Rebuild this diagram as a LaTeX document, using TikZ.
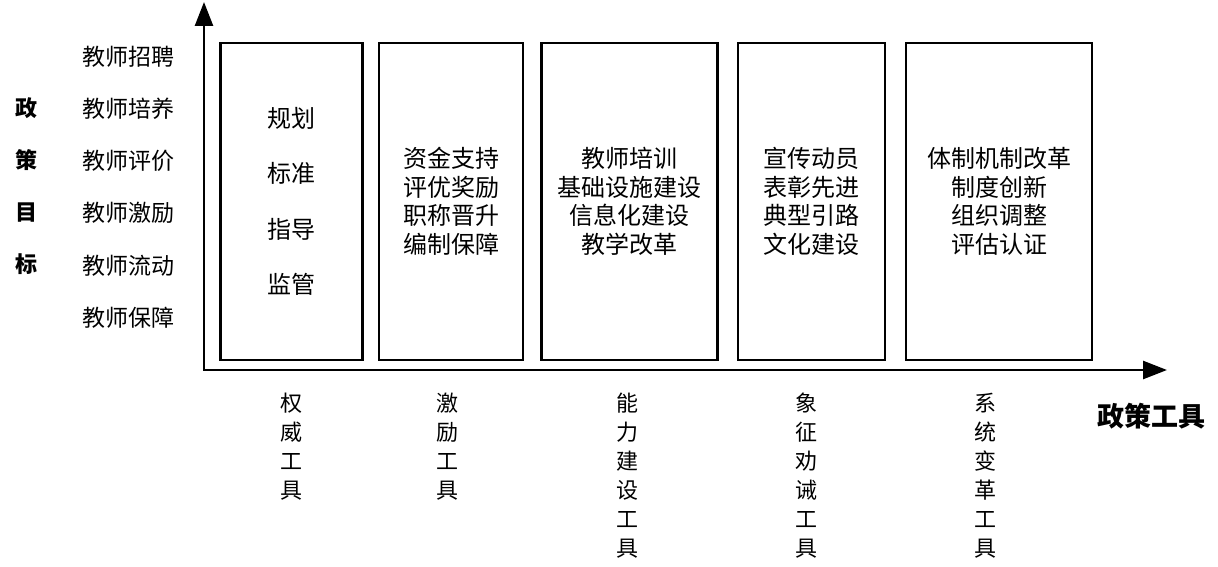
\documentclass[tikz,border=0pt]{standalone}
\usepackage{fontspec}
\newfontfamily\cjk{Noto Sans CJK SC}
\usepackage{tikz}
\usetikzlibrary{arrows.meta, positioning}

\tikzset{
  axis/.style={line width=2.6pt, {Triangle[length=24pt,width=18pt]}-{Triangle[length=24pt,width=18pt]}},
  toolbox/.style={draw, line width=2.6pt, inner sep=0pt, align=center,
                  minimum height=317pt, font=\cjk\fontsize{24}{28.5}\selectfont},
  goal/.style={font=\cjk\fontsize{23}{23}\selectfont, inner sep=0pt},
  toolname/.style={font=\cjk\fontsize{22}{29}\selectfont, align=center, inner sep=0pt, anchor=north},
  axistitle/.style={font=\cjk\bfseries\fontsize{22}{52}\selectfont, align=center, inner sep=0pt}
}

\begin{document}
\begin{tikzpicture}[x=1pt, y=-1pt]
      \useasboundingbox (0,0) rectangle (1218,567);

      % Axes
      \coordinate (origin) at (204,370);
      \coordinate (ytip) at (204,2);
      \coordinate (xtip) at (1167,370);
      \draw[axis] (ytip) -- (origin) -- (xtip);

      % Policy goals
      \node[axistitle] (goaltitle) at (27,186) {政\\策\\目\\标};
      \node[goal] (g1) at (128,57) {教师招聘};
      \node[goal] (g2) at (128,109) {教师培养};
      \node[goal] (g3) at (128,161) {教师评价};
      \node[goal] (g4) at (128,213) {教师激励};
      \node[goal] (g5) at (128,266) {教师流动};
      \node[goal] (g6) at (128,318) {教师保障};

      % Tool boxes
      \node[toolbox, minimum width=142pt, font=\cjk\fontsize{24}{55.5}\selectfont]
           (authority) at (291.5,201.5) {规划\\标准\\指导\\监管};
      \node[toolbox, minimum width=144pt] (incentive) at (451,201.5) {资金支持\\评优奖励\\职称晋升\\编制保障};
      \node[toolbox, minimum width=176pt] (capacity) at (629.5,201.5) {教师培训\\基础设施建设\\信息化建设\\教学改革};
      \node[toolbox, minimum width=147pt] (hortatory) at (811.5,201.5) {宣传动员\\表彰先进\\典型引路\\文化建设};
      \node[toolbox, minimum width=186pt] (system) at (999,201.5) {体制机制改革\\制度创新\\组织调整\\评估认证};

      % Tool names
      \node[toolname] (authname) at (291,393) {权\\威\\工\\具};
      \node[toolname] (incname) at (447,393) {激\\励\\工\\具};
      \node[toolname] (capname) at (627,393) {能\\力\\建\\设\\工\\具};
      \node[toolname] (horname) at (806,393) {象\\征\\劝\\诫\\工\\具};
      \node[toolname] (sysname) at (985,393) {系\\统\\变\\革\\工\\具};

      \node[axistitle, font=\cjk\bfseries\fontsize{27}{27}\selectfont] (tooltitle) at (1151,416) {政策工具};
\end{tikzpicture}
\end{document}
